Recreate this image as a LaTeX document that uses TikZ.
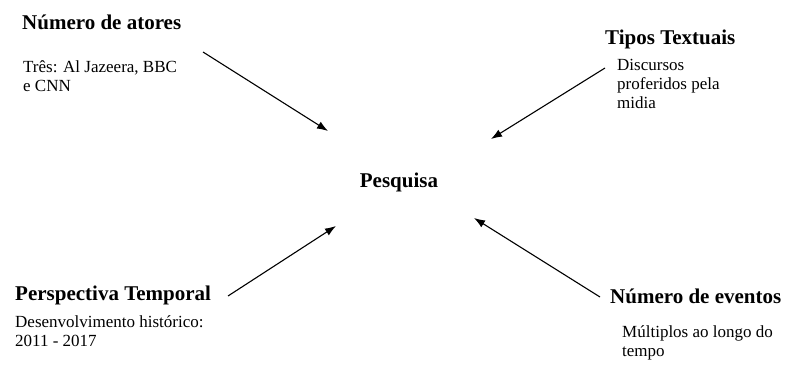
\documentclass[tikz,border=0pt]{standalone}
\usepackage{fontspec}
\setmainfont{Liberation Serif}
\usetikzlibrary{arrows.meta}
\begin{document}
\begin{tikzpicture}[x=1pt,y=-1pt,
  head/.style={inner sep=0pt,anchor=base west,font=\fontsize{21}{24}\selectfont\bfseries},
  % multi-line notes: the base anchor sits on the last line
  body/.style={inner sep=0pt,anchor=base west,align=left,font=\fontsize{17}{19}\selectfont},
  arr/.style={line width=1.1pt,-{Latex[length=11pt,width=8pt]}}]
  \useasboundingbox (0,0) rectangle (789,380);
  % centre
  \node[inner sep=0pt,anchor=base,font=\fontsize{21}{24}\selectfont\bfseries] (pesq) at (399,187) {Pesquisa};
  % top left
  \node[head] (atores) at (22,29) {Número de atores};
  \node[body] (atoresb) at (23,91) {Três: Al Jazeera, BBC\\e CNN};
  % top right
  \node[head] (tipos) at (605,44) {Tipos Textuais};
  \node[body] (tiposb) at (617,108) {Discursos\\proferidos pela\\midia};
  % bottom left
  \node[head] (persp) at (15,300) {Perspectiva Temporal};
  \node[body] (perspb) at (15,346) {Desenvolvimento histórico:\\2011 - 2017};
  % bottom right
  \node[head] (event) at (610,303) {Número de eventos};
  \node[body] (eventb) at (622,356) {Múltiplos ao longo do\\tempo};
  % arrow ends
  \coordinate (s1) at (203,52);  \coordinate (t1) at (328,131);
  \coordinate (s2) at (605,68);  \coordinate (t2) at (491,139);
  \coordinate (s3) at (228,296); \coordinate (t3) at (336,226);
  \coordinate (s4) at (600,297); \coordinate (t4) at (474,218);
  \draw[arr] (s1) -- (t1);
  \draw[arr] (s2) -- (t2);
  \draw[arr] (s3) -- (t3);
  \draw[arr] (s4) -- (t4);
\end{tikzpicture}
\end{document}
